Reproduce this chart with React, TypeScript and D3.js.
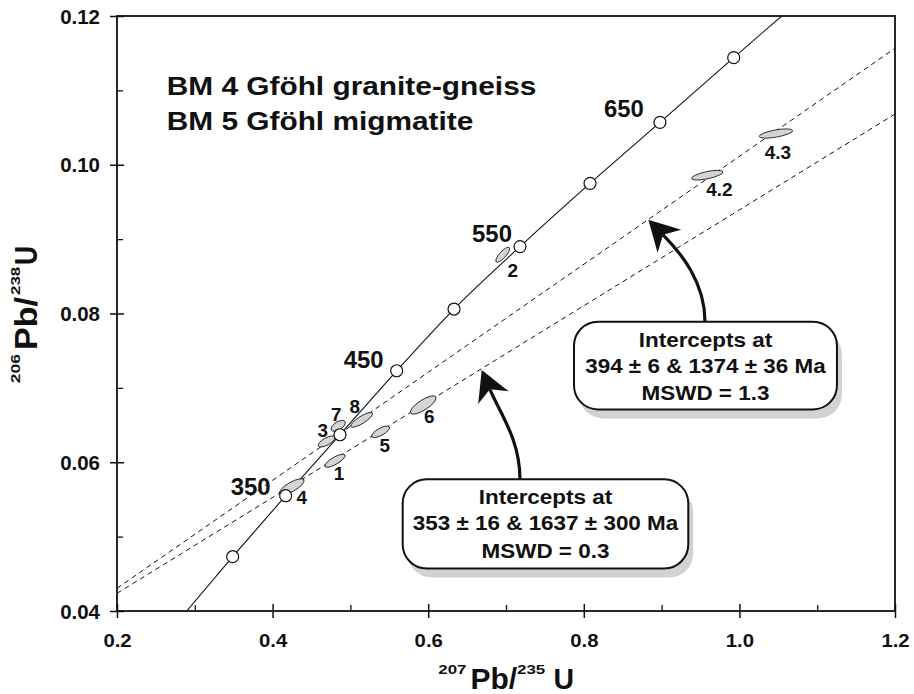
import { useEffect, useRef } from 'react';
import * as d3 from 'd3';

const W = 914;
const H = 694;

// concordia ages (Ma) and where their circles sit on the chart
const concordiaAges = [300, 350, 400, 450, 500, 550, 600, 650, 700];
const concordiaX = [0.3487, 0.4168, 0.4866, 0.5595, 0.6332, 0.718, 0.808, 0.8979, 0.9927];
const concordiaY = [0.0473, 0.0555, 0.0637, 0.0723, 0.0806, 0.089, 0.0975, 0.1057, 0.1144];
// where the curve leaves the frame (bottom, top)
const concordiaEndsX = [0.2896, 1.0544];
const concordiaEndsY = [0.04, 0.12];
const labelledAges = [350, 450, 550, 650];

// zircon analyses (ellipse centres)
const grainNames = ['1', '2', '3', '4', '5', '6', '7', '8', '4.2', '4.3'];
const grainX = [0.4802, 0.6958, 0.4695, 0.4246, 0.5389, 0.5937, 0.4844, 0.5145, 0.9587, 1.047];
const grainY = [0.0602, 0.0879, 0.0628, 0.0567, 0.0641, 0.0677, 0.0649, 0.0657, 0.0986, 0.1042];

// discordia lines: y at x = 0.2 and x = 1.2
const discordiaX = [0.2, 1.2];
const discordiaA = [0.04305, 0.11566]; // 394 & 1374 Ma
const discordiaB = [0.04238, 0.10682]; // 353 & 1637 Ma

const calloutA = ['Intercepts at', '394 ± 6 & 1374 ± 36 Ma', 'MSWD = 1.3'];
const calloutB = ['Intercepts at', '353 ± 16 & 1637 ± 300 Ma', 'MSWD = 0.3'];

const titleLines = ['BM 4 Gföhl granite-gneiss', 'BM 5 Gföhl migmatite'];

const xMajor = [0.2, 0.4, 0.6, 0.8, 1.0, 1.2];
const xMinor = [0.3, 0.5, 0.7, 0.9, 1.1];
const xTickLabels = ['0.2', '0.4', '0.6', '0.8', '1.0', '1.2'];
const yMajor = [0.04, 0.06, 0.08, 0.1, 0.12];
const yMinor = [0.05, 0.07, 0.09, 0.11];
const yTickLabels = ['0.04', '0.06', '0.08', '0.10', '0.12'];

// ellipse shapes in px (semi axes, rotation) and label offsets
const grainShape = [
  { rx: 11.5, ry: 3.6, a: -30, lx: 4, ly: 19 },
  { rx: 9.7, ry: 3.2, a: -48, lx: 10, ly: 22 },
  { rx: 9.5, ry: 3.6, a: -29, lx: -4, ly: -4 },
  { rx: 14, ry: 4.6, a: -30, lx: 10, ly: 17 },
  { rx: 10, ry: 3.6, a: -29, lx: 4, ly: 20 },
  { rx: 15, ry: 5, a: -33, lx: 6, ly: 18 },
  { rx: 8, ry: 4, a: -32, lx: -2, ly: -5 },
  { rx: 12.7, ry: 3.6, a: -32, lx: -7, ly: -7 },
  { rx: 16, ry: 3.6, a: -12, lx: 12, ly: 21 },
  { rx: 17, ry: 3.6, a: -10, lx: 2, ly: 25 },
];
const ageLabelOffset = [[-35, -1], [-33, -2.5], [-28, -5], [-36, -5.6]];

const FONT = 'Liberation Sans, Arial, Helvetica, sans-serif';

const App = () => {
  const svgRef = useRef(null);

  useEffect(() => {
    const svg = d3.select(svgRef.current);
    svg.selectAll('*').remove();

    const x = d3.scaleLinear().domain([0.2, 1.2]).range([117, 895]);
    const y = d3.scaleLinear().domain([0.04, 0.12]).range([611, 16]);

    const txt = (g, px, py, s, size, anchor, sx) =>
      g.append('text')
        .attr('transform', `translate(${px},${py}) scale(${sx},1)`)
        .attr('text-anchor', anchor)
        .attr('font-size', size)
        .attr('font-weight', 'bold')
        .attr('fill', '#111')
        .text(s);

    svg.append('defs').append('clipPath').attr('id', 'plot')
      .append('rect')
      .attr('x', x(0.2)).attr('y', y(0.12))
      .attr('width', x(1.2) - x(0.2)).attr('height', y(0.04) - y(0.12));

    const root = svg.append('g').attr('font-family', FONT);
    const plot = root.append('g').attr('clip-path', 'url(#plot)');

    // discordia lines
    const line = d3.line().x(d => x(d[0])).y(d => y(d[1]));
    [discordiaA, discordiaB].forEach(ys => {
      plot.append('path')
        .datum(discordiaX.map((v, i) => [v, ys[i]]))
        .attr('d', line)
        .attr('fill', 'none')
        .attr('stroke', '#111')
        .attr('stroke-width', 1)
        .attr('stroke-dasharray', '5,4');
    });

    // concordia curve
    const cPts = [[concordiaEndsX[0], concordiaEndsY[0]]]
      .concat(concordiaX.map((v, i) => [v, concordiaY[i]]))
      .concat([[concordiaEndsX[1], concordiaEndsY[1]]]);
    plot.append('path')
      .datum(cPts)
      .attr('d', line.curve(d3.curveMonotoneX))
      .attr('fill', 'none')
      .attr('stroke', '#111')
      .attr('stroke-width', 1.1);

    // error ellipses
    const grains = grainNames.map((n, i) => ({ n, x: grainX[i], y: grainY[i], ...grainShape[i] }));
    plot.selectAll('.grain')
      .data(grains)
      .enter()
      .append('ellipse')
      .attr('class', 'grain')
      .attr('transform', d => `translate(${x(d.x)},${y(d.y)}) rotate(${d.a})`)
      .attr('rx', d => d.rx)
      .attr('ry', d => d.ry)
      .attr('fill', '#d4d4d4')
      .attr('stroke', '#111')
      .attr('stroke-width', 0.8);

    // concordia age circles
    plot.selectAll('.age')
      .data(concordiaAges.map((a, i) => ({ a, x: concordiaX[i], y: concordiaY[i] })))
      .enter()
      .append('circle')
      .attr('class', 'age')
      .attr('cx', d => x(d.x))
      .attr('cy', d => y(d.y))
      .attr('r', 6)
      .attr('fill', '#fff')
      .attr('stroke', '#111')
      .attr('stroke-width', 1.2);

    grains.forEach(d => txt(root, x(d.x) + d.lx, y(d.y) + d.ly, d.n, 18, 'middle', 1.05));

    labelledAges.forEach((a, k) => {
      const i = concordiaAges.indexOf(a);
      txt(root, x(concordiaX[i]) + ageLabelOffset[k][0], y(concordiaY[i]) + ageLabelOffset[k][1],
        String(a), 23, 'middle', 1.04);
    });

    // title
    titleLines.forEach((s, i) => txt(root, x(0.2639), y(0.1094) + i * 35, s, 25.5, 'start', 1.17));

    // callout boxes with arrows
    const callout = (lines, box, start, tip, ang) => {
      const bx = x(box[0]), by = y(box[1]);
      const bw = x(box[2]) - bx, bh = y(box[3]) - by;
      root.append('rect')
        .attr('x', bx + 5).attr('y', by + 9).attr('width', bw).attr('height', bh)
        .attr('rx', 24).attr('fill', '#d2d2d2');
      root.append('rect')
        .attr('x', bx).attr('y', by).attr('width', bw).attr('height', bh)
        .attr('rx', 24).attr('fill', '#fff').attr('stroke', '#111').attr('stroke-width', 2);
      lines.forEach((s, i) => txt(root, bx + bw / 2, by + [25, 51, 78.5][i], s, 21, 'middle', 1.07));

      const S = [x(start), by];
      const T = [x(tip[0]), y(tip[1])];
      const u = [Math.cos(ang * Math.PI / 180), Math.sin(ang * Math.PI / 180)];
      const nrm = [-u[1], u[0]];
      const L = 30, Wd = 16.5;
      const N = [T[0] + 0.7 * L * u[0], T[1] + 0.7 * L * u[1]];
      const p = d3.path();
      p.moveTo(S[0], S[1]);
      p.bezierCurveTo(S[0], S[1] - 40, N[0] + 25 * u[0], N[1] + 25 * u[1], N[0], N[1]);
      root.append('path').attr('d', p.toString())
        .attr('fill', 'none').attr('stroke', '#111').attr('stroke-width', 3.2);
      const head = [
        T,
        [T[0] + L * u[0] + Wd * nrm[0], T[1] + L * u[1] + Wd * nrm[1]],
        N,
        [T[0] + L * u[0] - Wd * nrm[0], T[1] + L * u[1] - Wd * nrm[1]],
      ];
      root.append('path').attr('d', 'M' + head.map(q => q.join(',')).join('L') + 'Z').attr('fill', '#111');
    };
    callout(calloutA, [0.7874, 0.0789, 1.1254, 0.0671], 0.9558, [0.883, 0.0926], 45.6);
    callout(calloutB, [0.5672, 0.0577, 0.9343, 0.0457], 0.718, [0.6688, 0.0724], 67.1);

    // axes
    const axB = root.append('g').attr('transform', `translate(0,${y(0.04)})`)
      .call(d3.axisBottom(x).tickValues(xMajor).tickSize(7).tickFormat((d, i) => xTickLabels[i]));
    axB.select('.domain').remove();
    axB.selectAll('.tick line').attr('y1', -7).attr('y2', 7).attr('stroke', '#111').attr('stroke-width', 1.5);
    axB.selectAll('.tick text')
      .attr('y', 35.7).attr('dy', null)
      .attr('transform', 'scale(1.07,1)')
      .attr('font-size', 19).attr('font-weight', 'bold').attr('font-family', FONT).attr('fill', '#111');
    const axBm = root.append('g').attr('transform', `translate(0,${y(0.04)})`)
      .call(d3.axisBottom(x).tickValues(xMinor).tickSize(-6).tickFormat(''));
    axBm.select('.domain').remove();
    axBm.selectAll('.tick line').attr('stroke', '#111').attr('stroke-width', 1.3);

    const axL = root.append('g').attr('transform', `translate(${x(0.2)},0)`)
      .call(d3.axisLeft(y).tickValues(yMajor).tickSize(7).tickFormat((d, i) => yTickLabels[i]));
    axL.select('.domain').remove();
    axL.selectAll('.tick line').attr('x1', 7).attr('x2', -7).attr('stroke', '#111').attr('stroke-width', 1.5);
    axL.selectAll('.tick text')
      .attr('x', -16.2).attr('y', 7).attr('dy', null)
      .attr('transform', 'scale(1.05,1)')
      .attr('font-size', 19.5).attr('font-weight', 'bold').attr('font-family', FONT).attr('fill', '#111');
    const axLm = root.append('g').attr('transform', `translate(${x(0.2)},0)`)
      .call(d3.axisLeft(y).tickValues(yMinor).tickSize(-6).tickFormat(''));
    axLm.select('.domain').remove();
    axLm.selectAll('.tick line').attr('stroke', '#111').attr('stroke-width', 1.3);

    root.append('rect')
      .attr('x', x(0.2)).attr('y', y(0.12))
      .attr('width', x(1.2) - x(0.2)).attr('height', y(0.04) - y(0.12))
      .attr('fill', 'none').attr('stroke', '#111').attr('stroke-width', 1.8);

    // axis titles
    txt(root, 438.3, 674, '207', 13, 'start', 1.3);
    txt(root, 470.5, 689, 'Pb/', 30, 'start', 1.0);
    txt(root, 517, 674, '235', 13, 'start', 1.3);
    txt(root, 553.5, 689, 'U', 30, 'start', 0.95);

    const yt = root.append('g').attr('transform', 'translate(36.7,0) rotate(-90)');
    txt(yt, -383.3, -16.7, '206', 13, 'start', 1.35);
    txt(yt, -350, 0, 'Pb/', 31, 'start', 1.1);
    txt(yt, -295, -16.7, '238', 13, 'start', 1.3);
    txt(yt, -265, 0, 'U', 31, 'start', 0.85);
  }, []);

  return (
    <svg ref={svgRef} width={W} height={H}
      style={{ position: 'absolute', left: 0, top: 0, background: '#fff' }} />
  );
};

export default App;
